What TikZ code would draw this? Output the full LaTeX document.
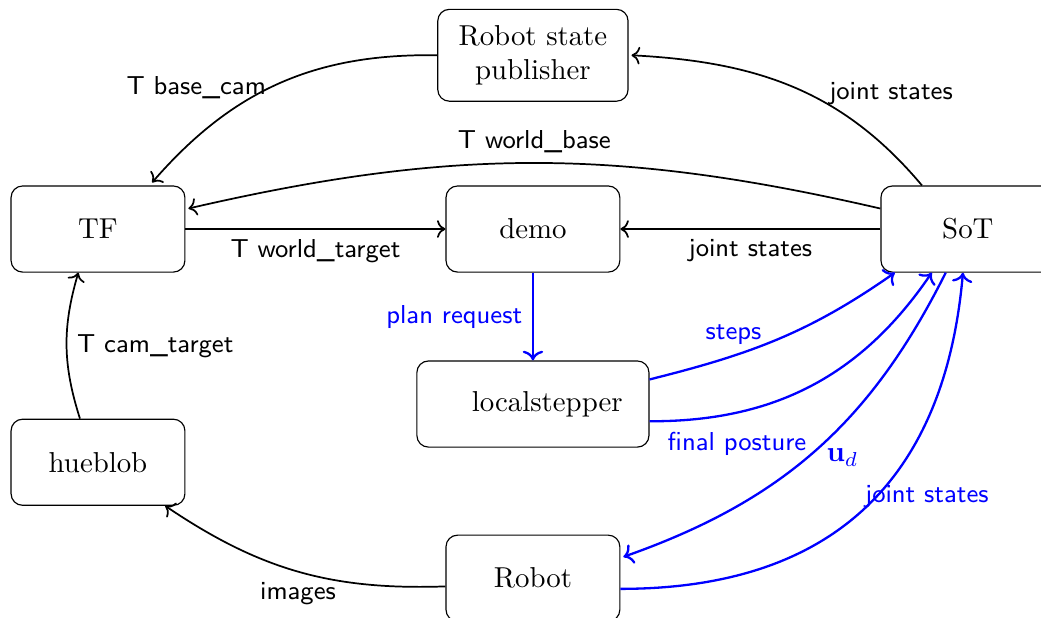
\documentclass[tikz,border=0pt]{standalone}
\usepackage{tikz}
\usetikzlibrary{arrows.meta, positioning}

\begin{document}
\begin{tikzpicture}[ msg/.style={font=\sffamily\small}, link/.style={->, semithick}, plan/.style={->, thick, blue}, block/.style={draw, rounded corners, minimum width=2.12cm, minimum height=1.05cm} ]
\useasboundingbox (-1.195,2.793) rectangle (11.5,-4.732);
\node[block] (tf) {TF}; \node[block, right=3.17cm of tf] (demo) {demo}; \node[block, right=3.17cm of demo] (sot) {SoT};
\node[block, above=1.02cm of demo, minimum width=2.32cm, minimum height=1.12cm, align=center] (rsp) {Robot state\\publisher};
\node[block, below=1.07cm of demo, minimum width=2.83cm] (ls) {\quad localstepper};
\node[block, below=1.06cm of ls] (robot) {Robot};
\node[block, below=1.78cm of tf] (hueblob) {hueblob};
		% base to camera
		\draw[link] (rsp.west) to[bend right=25] node[pos=0.53, left=-2pt, msg] {T base\_cam} ([xshift=0.66cm,yshift=1pt]tf.north);
		% joints to publisher
		\draw[link] ([xshift=-0.56cm]sot.north) to[out=130, in=-3] node[pos=0.45, right=4pt, msg] {joint states} ([xshift=1pt]rsp.east);
		% world to base
		\draw[link] ([yshift=0.25cm]sot.west) to[bend right=13] node[above, msg] {T world\_base} ([xshift=1pt,yshift=0.25cm]tf.east);
		% world to target
		\draw[link] (tf) -- node[below, msg] {T world\_target} (demo);
		% joints to demo
		\draw[link] (sot) -- node[below, msg] {joint states} (demo);
		% planning
		\draw[plan] (demo) -- node[left, msg] {plan request} (ls);
		\draw[plan] ([yshift=0.3cm]ls.east) to[out=14, in=-145] node[pos=0.31, above, msg] {steps} ([xshift=-0.89cm]sot.south);
		\draw[plan] ([yshift=-0.21cm]ls.east) to[bend right=28] node[pos=0.02, below right, msg] {final posture} ([xshift=-0.44cm]sot.south);
		% control loop
		\draw[plan] ([xshift=-0.27cm]sot.south) to[bend left=22] node[midway, right, yshift=-2.5pt] {$\mathbf{u}_d$} ([xshift=1pt,yshift=0.26cm]robot.east);
		\draw[plan] ([yshift=-0.13cm]robot.east) to[out=0, in=-95, looseness=1.15] node[midway, above right=-4.5pt, msg] {joint states} ([xshift=-0.06cm]sot.south);
		% vision
		\draw[link] ([yshift=-0.1cm]robot.west) to[bend left=18] node[midway, below, msg] {images} ([xshift=0.82cm]hueblob.south);
		\draw[link] ([xshift=-0.22cm]hueblob.north) to[bend left=17] node[midway, right, msg] {T cam\_target} ([xshift=-0.24cm]tf.south);
\end{tikzpicture}
\end{document}
